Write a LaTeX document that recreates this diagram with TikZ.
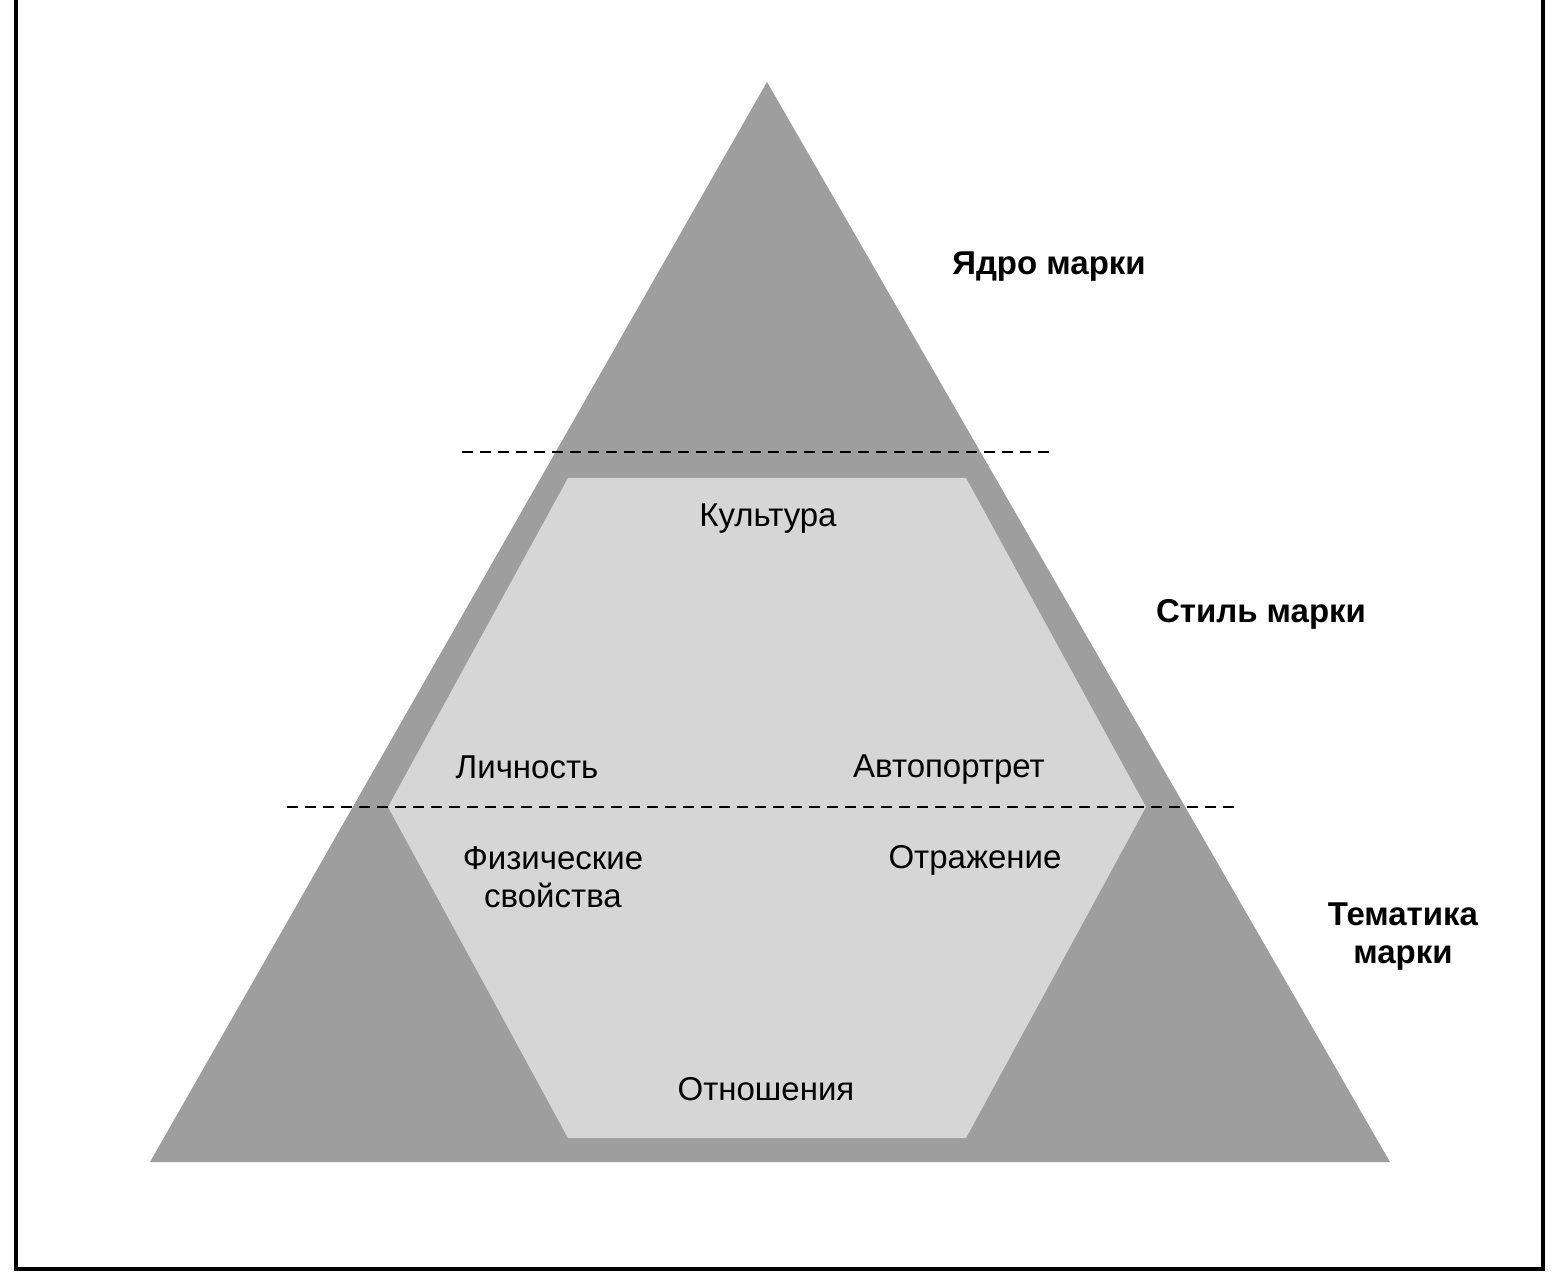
\documentclass[tikz,border=0pt]{standalone}
\usepackage{fontspec}
\setmainfont{Liberation Sans}
\definecolor{darkfill}{gray}{0.62}
\definecolor{lightfill}{gray}{0.84}
\tikzset{
  lbl/.style={font=\fontsize{16.5pt}{19pt}\selectfont, inner sep=0pt, align=center},
  blbl/.style={lbl, font=\fontsize{16.5pt}{19pt}\selectfont\bfseries},
  divider/.style={draw=black, line width=1.1pt, dash pattern=on 5.5pt off 3.5pt},
  frame/.style={draw=black, line width=1.7pt}
}
\begin{document}
\begin{tikzpicture}[x=0.5pt, y=-0.5pt]
\useasboundingbox (0,0) rectangle (1560,1272);
\fill[white] (0,0) rectangle (1560,1272);
% frame (no top edge)
\draw[frame] (16,-20) -- (16,1269) -- (1543,1269) -- (1543,-20);
% pyramid
\coordinate (apex) at (767,82);
\coordinate (bl) at (150,1162);
\coordinate (br) at (1390,1162);
\fill[darkfill] (apex) -- (br) -- (bl) -- cycle;
% inner hexagon
\coordinate (h1) at (568,478);
\coordinate (h2) at (966,478);
\coordinate (h3) at (1146,807);
\coordinate (h4) at (966,1138);
\coordinate (h5) at (568,1138);
\coordinate (h6) at (388,807);
\fill[lightfill] (h1) -- (h2) -- (h3) -- (h4) -- (h5) -- (h6) -- cycle;
% dividers
\coordinate (d1a) at (462,452);
\coordinate (d1b) at (1052,452);
\coordinate (d2a) at (287,807);
\coordinate (d2b) at (1240,807);
\draw[divider] (d1a) -- (d1b);
\draw[divider] (d2a) -- (d2b);
% labels
\node[blbl] (core) at (1049,267) {Ядро марки};
\node[blbl] (style) at (1261,614) {Стиль марки};
\node[blbl] (theme) at (1403,937) {Тематика\\марки};
\node[lbl] (culture) at (768,519) {Культура};
\node[lbl] (person) at (527,767) {Личность};
\node[lbl] (selfp) at (949,770) {Автопортрет};
\node[lbl] (phys) at (553,877) {Физические\\свойства};
\node[lbl] (refl) at (975,860) {Отражение};
\node[lbl] (rel) at (766,1089) {Отношения};
\end{tikzpicture}
\end{document}
